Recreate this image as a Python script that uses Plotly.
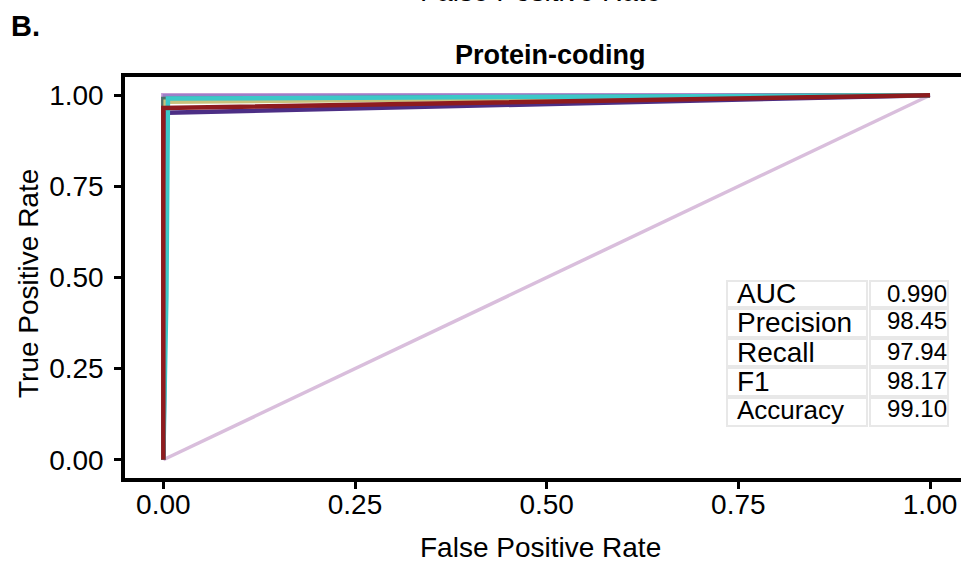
import plotly.graph_objects as go

# ROC curves (fpr, tpr)
series_names = ["orchid", "mediumpurple", "slategreen", "khaki", "darkpurple", "teal", "darkred"]
series_colors = ["#C79BD6", "#9B80C8", "#4F6E66", "#C9C27C", "#4C2E85", "#3CC8C8", "#8E1B1E"]
series_fpr = [
    [0.0, 0.0, 1.0],
    [0.0, 0.002, 1.0],
    [0.0, 0.0, 1.0],
    [0.0, 0.003, 1.0],
    [0.0, 0.005, 1.0],
    [0.0, 0.004, 0.006, 1.0],
    [0.0, 0.0, 1.0],
]
series_tpr = [
    [0.0, 1.0, 1.0],
    [0.0, 0.997, 1.0],
    [0.0, 0.99, 1.0],
    [0.0, 0.982, 1.0],
    [0.0, 0.952, 1.0],
    [0.0, 0.45, 0.991, 1.0],
    [0.0, 0.965, 1.0],
]
diag_fpr = [0.0, 1.0]
diag_tpr = [0.0, 1.0]

metric_names = ["AUC", "Precision", "Recall", "F1", "Accuracy"]
metric_values = ["0.990", "98.45", "97.94", "98.17", "99.10"]

x_ticks = [0.0, 0.25, 0.5, 0.75, 1.0]
x_ticklabels = ["0.00", "0.25", "0.50", "0.75", "1.00"]
y_ticks = [0.0, 0.25, 0.5, 0.75, 1.0]
y_ticklabels = ["0.00", "0.25", "0.50", "0.75", "1.00"]

W, H = 961, 563
L, R, T, B = 125, 0, 77, 85

fig = go.Figure()
fig.add_trace(go.Scatter(x=diag_fpr, y=diag_tpr, mode="lines",
                         line=dict(color="#D9BEDC", width=3.5), showlegend=False))
for name, col, fx, ty in zip(series_names, series_colors, series_fpr, series_tpr):
    fig.add_trace(go.Scatter(x=fx, y=ty, mode="lines", name=name,
                             line=dict(color=col, width=4.5), showlegend=False))

font = "Liberation Sans, Arial, Helvetica, sans-serif"

def px2paper_x(px):
    return (px - L) / (W - L - R)

def px2paper_y(py):
    return (H - B - py) / (H - T - B)

shapes = []
annotations = []
# table
row_tops = [281, 309, 339, 368, 398]
row_bots = [307, 337, 366, 396, 426]
label_y = [293, 322, 352, 381, 410]
value_y = [293, 320, 351, 380, 408]
c1 = (727, 867)
c2 = (870, 948)
for i, (nm, val) in enumerate(zip(metric_names, metric_values)):
    for (x0, x1) in (c1, c2):
        shapes.append(dict(type="rect", xref="paper", yref="paper",
                           x0=px2paper_x(x0), x1=px2paper_x(x1),
                           y0=px2paper_y(row_bots[i]), y1=px2paper_y(row_tops[i]),
                           line=dict(color="#E8E8E8", width=2), fillcolor="white", layer="above"))
    annotations.append(dict(x=px2paper_x(735), y=px2paper_y(label_y[i]), xref="paper", yref="paper",
                            text=nm, showarrow=False, xanchor="left", yanchor="middle",
                            font=dict(size=28 if nm != "Accuracy" else 26, color="black", family=font)))
    annotations.append(dict(x=px2paper_x(949), y=px2paper_y(value_y[i]), xref="paper", yref="paper",
                            text=val, showarrow=False, xanchor="right", yanchor="middle",
                            font=dict(size=24, color="black", family=font)))

annotations += [
    dict(x=px2paper_x(550), y=px2paper_y(55), xref="paper", yref="paper", text="<b>Protein-coding</b>",
         showarrow=False, xanchor="center", yanchor="middle", font=dict(size=27, color="black", family=font)),
    dict(x=px2paper_x(9), y=px2paper_y(26), xref="paper", yref="paper", text="<b>B.</b>",
         showarrow=False, xanchor="left", yanchor="middle", font=dict(size=29, color="black", family=font)),
    dict(x=px2paper_x(540), y=px2paper_y(-9), xref="paper", yref="paper", text="False Positive Rate",
         showarrow=False, xanchor="center", yanchor="middle", font=dict(size=28, color="black", family=font)),
    dict(x=px2paper_x(540), y=px2paper_y(547), xref="paper", yref="paper", text="False Positive Rate",
         showarrow=False, xanchor="center", yanchor="middle", font=dict(size=28, color="black", family=font)),
    dict(x=px2paper_x(28), y=px2paper_y(284), xref="paper", yref="paper", text="True Positive Rate",
         showarrow=False, xanchor="center", yanchor="middle", textangle=-90,
         font=dict(size=28, color="black", family=font)),
    dict(x=px2paper_x(6), y=px2paper_y(580), xref="paper", yref="paper", text="<b>C.</b>",
         showarrow=False, xanchor="left", yanchor="middle", font=dict(size=29, color="black", family=font)),
]

fig.update_layout(
    width=W, height=H,
    margin=dict(l=L, r=R, t=T, b=B),
    paper_bgcolor="white", plot_bgcolor="white",
    shapes=shapes, annotations=annotations,
    xaxis=dict(range=[-0.05, 1.0404], tickvals=x_ticks, ticktext=x_ticklabels,
               showgrid=False, zeroline=False, showline=True, linecolor="black", linewidth=3.5,
               mirror=True, ticks="outside", ticklen=7, tickwidth=2.5, tickcolor="black",
               ticklabelstandoff=-8,
               tickfont=dict(size=28, color="black", family=font)),
    yaxis=dict(range=[-0.05, 1.05], tickvals=y_ticks, ticktext=y_ticklabels,
               showgrid=False, zeroline=False, showline=True, linecolor="black", linewidth=3.5,
               ticks="outside", ticklen=7, tickwidth=2.5, tickcolor="black",
               ticklabelstandoff=5,
               tickfont=dict(size=28, color="black", family=font)),
)

fig.write_html("out.html")
